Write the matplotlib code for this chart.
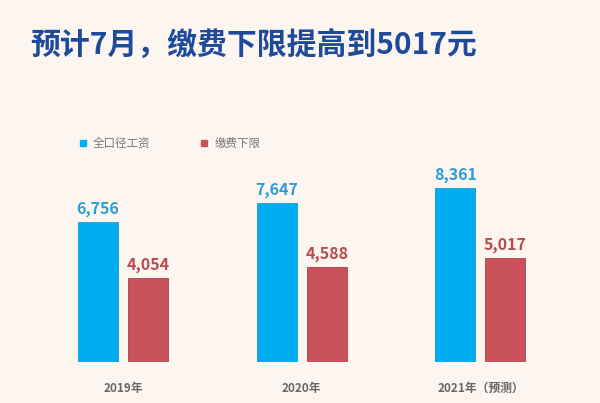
import matplotlib
matplotlib.use('Agg')
import matplotlib.pyplot as plt
from matplotlib.patches import Rectangle
import numpy as np

plt.rcParams['font.family'] = ['Noto Sans CJK SC', 'DejaVu Sans']

# 数据
years = ['2019年', '2020年', '2021年（预测）']
wage = [6756, 7647, 8361]        # 全口径工资
floor = [4054, 4588, 5017]       # 缴费下限

bg = '#fdf6f0'
blue = '#00aeef'
red = '#c9525a'

fig = plt.figure(figsize=(6.0, 4.03), dpi=100, facecolor=bg)
ax = fig.add_axes([0, 0.1017, 1, 0.65])
ax.set_facecolor(bg)

x = np.arange(len(years))
w = 0.224
off = 0.14
ax.bar(x - off, wage, w, color=blue, edgecolor='#0e9fd6', linewidth=0.6)
ax.bar(x + off, floor, w, color=red, edgecolor='#a8444a', linewidth=0.6)

for xi, v in zip(x, wage):
    ax.text(xi - off, v + 230, f'{v:,}', ha='center', va='bottom',
            fontsize=11.5, fontweight='bold', color='#2a9fd6')
for xi, v in zip(x, floor):
    ax.text(xi + off, v + 230, f'{v:,}', ha='center', va='bottom',
            fontsize=11.5, fontweight='bold', color='#b84a4f')

ax.set_xlim(-0.688, 2.669)
ax.set_ylim(0, 12600)
ax.axis('off')

for xi, lab in zip(x, years):
    ax.text(xi, -1250, lab, ha='center', va='center', fontsize=8.5,
            color='#666666', fontweight='bold')

# 标题
fig.text(0.05, 0.888, '预计7月，缴费下限提高到5017元', ha='left', va='center',
         fontsize=21.5, fontweight='heavy', color='#1d4a9a')

# 图例
fig.patches.append(Rectangle((0.133, 0.638), 0.0095, 0.014, transform=fig.transFigure,
                             color=blue, figure=fig))
fig.text(0.155, 0.645, '全口径工资', ha='left', va='center', fontsize=8.3, color='#777777')
fig.patches.append(Rectangle((0.335, 0.638), 0.0095, 0.014, transform=fig.transFigure,
                             color=red, figure=fig))
fig.text(0.357, 0.645, '缴费下限', ha='left', va='center', fontsize=8.3, color='#777777')

fig.savefig('out.png', dpi=100, facecolor=bg)
